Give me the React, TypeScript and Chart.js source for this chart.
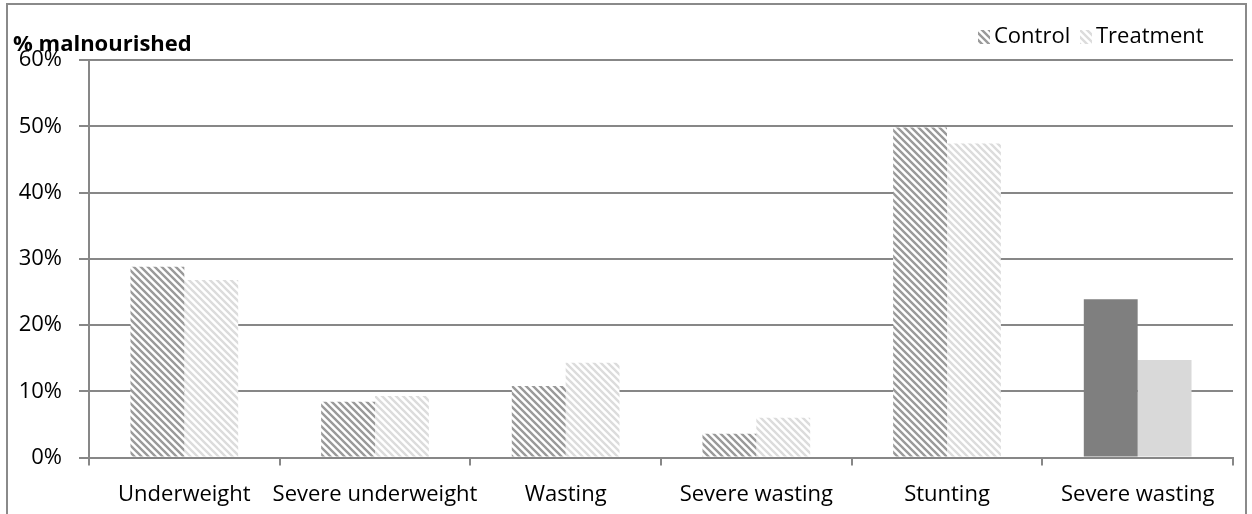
import React, { useEffect, useRef } from "react";
import { Chart, registerables } from "chart.js";

Chart.register(...registerables);

const categories = ["Underweight", "Severe underweight", "Wasting", "Severe wasting", "Stunting", "Severe wasting"];
const controlValues = [28.8, 8.4, 10.8, 3.6, 49.8, 23.9];
const treatmentValues = [26.8, 9.3, 14.3, 6.0, 47.4, 14.7];
const seriesNames = ["Control", "Treatment"];
const yTickMax = 60;
const yTickStep = 10;

const FONT = '"Open Sans", "Noto Sans", sans-serif';
const GRID = "#878787";

function makeStripeTile(fg: string, size: number, lw: number) {
  const c = document.createElement("canvas");
  c.width = size;
  c.height = size;
  const g = c.getContext("2d")!;
  g.fillStyle = "#ffffff";
  g.fillRect(0, 0, size, size);
  g.strokeStyle = fg;
  g.lineWidth = lw;
  g.beginPath();
  for (let k = -1; k <= 1; k++) {
    g.moveTo(k * size - 1, -1);
    g.lineTo(k * size + size + 1, size + 1);
  }
  g.stroke();
  return c;
}

export default function App() {
  const ref = useRef<HTMLCanvasElement>(null);
  useEffect(() => {
    const canvas = ref.current!;
    const ctx0 = canvas.getContext("2d")!;
    const ctrlPat = ctx0.createPattern(makeStripeTile("#9a9a9a", 7, 2.4), "repeat")!;
    const trtPat = ctx0.createPattern(makeStripeTile("#dcdcdc", 7, 2.4), "repeat")!;
    const last = categories.length - 1;
    const ctrlColors = controlValues.map((_, i) => (i === last ? "#7f7f7f" : ctrlPat));
    const trtColors = treatmentValues.map((_, i) => (i === last ? "#d9d9d9" : trtPat));

    const overlay = {
      id: "overlay",
      afterDraw(chart: any) {
        const c = chart.ctx;
        c.save();
        // frame
        c.strokeStyle = "#8a8a8a";
        c.lineWidth = 2;
        c.beginPath();
        c.moveTo(7, 520);
        c.lineTo(7, 4);
        c.lineTo(1246, 4);
        c.lineTo(1246, 520);
        c.stroke();
        // y title
        c.fillStyle = "#000";
        c.font = "bold 22px " + FONT;
        c.textBaseline = "middle";
        c.textAlign = "left";
        c.fillText("% malnourished", 13, 45);
        // legend
        c.font = "22px " + FONT;
        const items = [
          { x: 978, pat: ctrlPat, label: seriesNames[0] },
          { x: 1080, pat: trtPat, label: seriesNames[1] },
        ];
        for (const it of items) {
          c.fillStyle = it.pat;
          c.fillRect(it.x, 30, 12, 14);
          c.fillStyle = "#000";
          c.fillText(it.label, it.x + 16, 37);
        }
        c.restore();
      },
    };

    const chart = new Chart(canvas, {
      type: "bar",
      data: {
        labels: categories,
        datasets: [
          { label: seriesNames[0], data: controlValues, backgroundColor: ctrlColors as any, borderWidth: 0 },
          { label: seriesNames[1], data: treatmentValues, backgroundColor: trtColors as any, borderWidth: 0 },
        ],
      },
      options: {
        responsive: false,
        animation: false,
        layout: { padding: { top: 60, right: 19, bottom: 0, left: 0 } },
        datasets: { bar: { categoryPercentage: 0.565, barPercentage: 1.0 } },
        plugins: { legend: { display: false }, tooltip: { enabled: false } },
        scales: {
          x: {
            grid: { display: true, drawOnChartArea: false, tickLength: 8, color: GRID, lineWidth: 2, offset: true },
            border: { color: GRID, width: 2 },
            ticks: { color: "#000", font: { family: FONT, size: 22 }, padding: 16, maxRotation: 0, autoSkip: false },
            afterFit: (s: any) => { s.height = 56.5; },
          },
          y: {
            min: 0,
            max: yTickMax,
            ticks: { stepSize: yTickStep, color: "#000", font: { family: FONT, size: 22 }, padding: 17, callback: (v: any) => v + "%" },
            grid: { color: GRID, lineWidth: 2, tickLength: 10 },
            border: { color: GRID, width: 2 },
            afterFit: (s: any) => { s.width = 89; },
          },
        },
      },
      plugins: [overlay],
    });
    return () => chart.destroy();
  }, []);
  return (
    <div style={{ position: "absolute", left: 0, top: 0, width: 1252, height: 514 }}>
      <canvas ref={ref} width={1252} height={514} style={{ display: "block" }} />
    </div>
  );
}
